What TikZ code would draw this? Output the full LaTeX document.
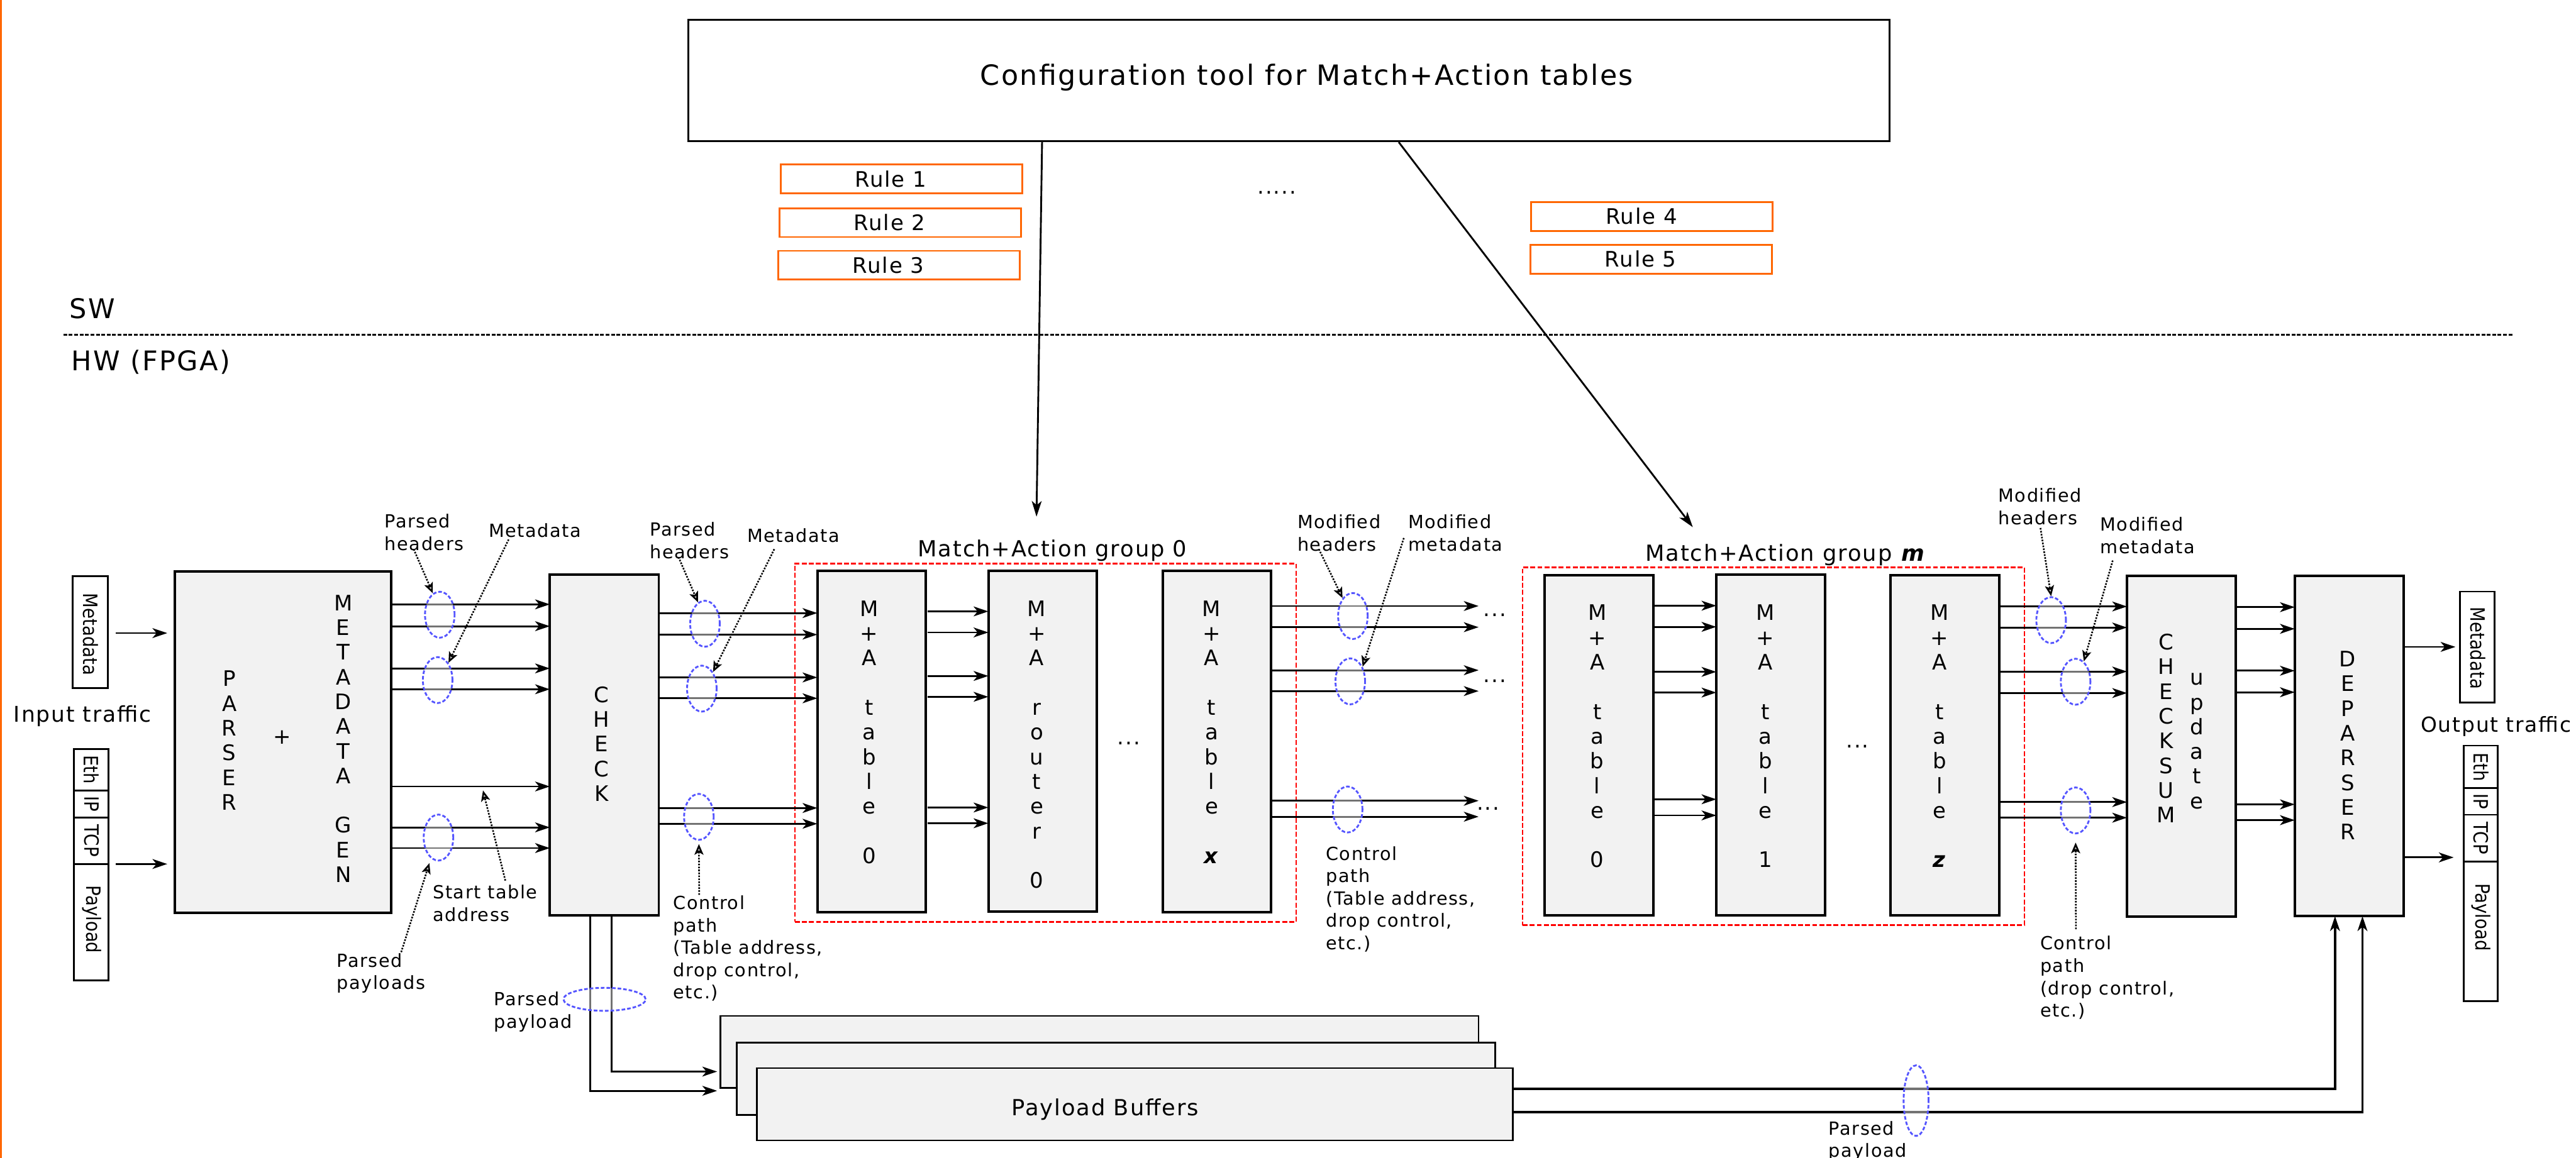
\documentclass[tikz,border=0pt]{standalone}
\usepackage{fontspec}
\setmainfont{DejaVu Sans}[LetterSpace=5.5]
\newfontfamily\plainfont{DejaVu Sans}
\usetikzlibrary{arrows.meta,shapes.geometric,calc}
\definecolor{boxgray}{HTML}{F2F2F2}
\definecolor{ellblue}{HTML}{5555FF}
\definecolor{grpred}{HTML}{FF0000}
\definecolor{ruleorange}{HTML}{FF6600}
\newcommand\lstrut{\rule{0pt}{9pt}}
\newcommand\sstrut{\rule{0pt}{10pt}}
\begin{document}
\begin{tikzpicture}[x=1pt,y=-1pt,
  blk/.style={draw=black, fill=boxgray, line width=1.5pt, inner sep=0pt, outer sep=0pt},
  sbox/.style={draw=black, line width=1.1pt, inner sep=0pt, outer sep=0pt},
  rulebox/.style={draw=ruleorange, line width=1.1pt, minimum width=147pt, minimum height=17.5pt, inner sep=0pt},
  grp/.style={draw=grpred, line width=1pt, dash pattern=on 3pt off 1.3pt, inner sep=0pt},
  stack/.style={font=\fontsize{13}{15.05}\selectfont, align=center, anchor=north, inner sep=0pt},
  lbl/.style={font=\fontsize{11}{13.6}\selectfont, align=left, anchor=north west, inner sep=0pt},
  rot/.style={rotate=-90, font=\plainfont\fontsize{12}{14}\selectfont, inner sep=0pt},
  sig/.style={line width=1.1pt, -{Stealth[length=9pt,width=6pt,inset=2.5pt]}},
  ann/.style={line width=1pt, dash pattern=on 1pt off 0.8pt, -{Stealth[length=6.5pt,width=5.5pt,inset=1.5pt,fill=gray!35]}},
  ell/.style={ellipse, draw=ellblue, line width=1.1pt, dash pattern=on 2.2pt off 1.2pt, fill=white, fill opacity=0.45, minimum width=18pt, minimum height=28pt, inner sep=0pt},
  txt/.style={inner sep=0pt, anchor=base west},
  dots/.style={inner sep=0pt, anchor=base, font=\fontsize{13}{15}\selectfont}
]
\fill[white] (0,0) rectangle (1568,705);
\useasboundingbox (0,0) rectangle (1568,705);
\draw[ruleorange, line width=1.3pt] (0.6,0) -- (0.6,705);

% ---------- SW part ----------
\node[draw=black, line width=1.1pt, minimum width=731pt, minimum height=74pt, inner sep=0pt] (cfg) at (784.5,49) {};
\node[txt, font=\fontsize{17}{20}\selectfont] (cfgt) at (596.5,51.9) {Configuration tool for Match+Action tables};

\node[rulebox] (r1) at (548.6,108.85) {};
\node[rulebox] (r2) at (547.85,135.55) {};
\node[rulebox] (r3) at (547.15,161.5) {};
\node[rulebox] (r4) at (1005.55,131.8) {};
\node[rulebox] (r5) at (1005.05,157.8) {};
\node[inner sep=0pt, font=\fontsize{13}{15}\selectfont] (r1t) at (542.1,108.9) {Rule 1};
\node[inner sep=0pt, font=\fontsize{13}{15}\selectfont] (r2t) at (541.4,135.6) {Rule 2};
\node[inner sep=0pt, font=\fontsize{13}{15}\selectfont] (r3t) at (540.7,161.5) {Rule 3};
\node[inner sep=0pt, font=\fontsize{13}{15}\selectfont] (r4t) at (999.1,131.8) {Rule 4};
\node[inner sep=0pt, font=\fontsize{13}{15}\selectfont] (r5t) at (998.6,157.8) {Rule 5};
\node[dots] (rdots) at (777.2,118) {.....};

\coordinate (c1) at (630.9,314.6);
\coordinate (c2) at (1030.4,321);
\draw[line width=1.1pt, -{Stealth[length=9.5pt,width=6pt,inset=2.5pt]}] (cfg.south -| 634.3,0) -- (c1);
\draw[line width=1.1pt, -{Stealth[length=9.5pt,width=6pt,inset=2.5pt]}] (cfg.south -| 851.4,0) -- (c2);

\node[txt, font=\fontsize{16.5}{20}\selectfont] (sw) at (42.1,193.9) {SW};
\node[txt, font=\fontsize{16.5}{20}\selectfont] (hw) at (43.3,225.5) {HW (FPGA)};
\draw[line width=1pt, dash pattern=on 2.3pt off 1pt] (38.6,203.8) -- (1530,203.8);

% ---------- groups ----------
\node[grp, minimum width=305.2pt, minimum height=218.1pt] (grp0) at (636.4,452.25) {};
\node[grp, minimum width=305.5pt, minimum height=218pt] (grpm) at (1079.55,454.4) {};
\node[txt, font=\fontsize{13.5}{16}\selectfont] (g0title) at (558.5,338.8) {Match+Action group 0};
\node[txt, font=\fontsize{13.5}{16}\selectfont] (gmtitle) at (1001.3,341.8) {Match+Action group \textbf{\textit{m}}};

% ---------- input ----------
\node[sbox, minimum width=21.4pt, minimum height=68pt] (inmeta) at (55,385) {};
\node[rot] (inmetat) at (55.3,386.3) {\scalebox{0.88}[1]{Metadata}};
\node[sbox, minimum width=21pt, minimum height=141pt] (inpkt) at (55.5,526.5) {};
\foreach \yy in {481.5,497.8,526} \draw[line width=1.1pt] (inpkt.west |- 0,\yy) -- (inpkt.east |- 0,\yy);
\node[rot] (ineth) at (55.8,468.7) {\scalebox{0.88}[1]{Eth}};
\node[rot] (inip) at (55.8,489.6) {\scalebox{0.88}[1]{IP}};
\node[rot] (intcp) at (55.8,511.9) {\scalebox{0.88}[1]{TCP}};
\node[rot] (inpay) at (55.8,559.9) {\scalebox{0.88}[1]{Payload}};
\node[txt, font=\fontsize{13.2}{16}\selectfont] (intr) at (8.2,439.7) {Input traffic};

% ---------- blocks ----------
\node[blk, minimum width=131.6pt, minimum height=207.7pt] (parser) at (172.2,451.85) {};
\node[blk, minimum width=66.3pt, minimum height=207.5pt] (check) at (367.85,453.75) {};
\node[blk, minimum width=66pt, minimum height=207.8pt] (g0t0) at (530.5,451.4) {};
\node[blk, minimum width=66pt, minimum height=207.5pt] (g0r0) at (634.6,451.25) {};
\node[blk, minimum width=66pt, minimum height=207.8pt] (g0tx) at (740.7,451.4) {};
\node[blk, minimum width=66.1pt, minimum height=207.3pt] (gmt0) at (973.35,453.75) {};
\node[blk, minimum width=66.1pt, minimum height=207.2pt] (gmt1) at (1077.75,453.6) {};
\node[blk, minimum width=66.1pt, minimum height=207.3pt] (gmtz) at (1183.85,453.75) {};
\node[blk, minimum width=66.2pt, minimum height=207.6pt] (csum) at (1327.8,454.4) {};
\node[blk, minimum width=66.4pt, minimum height=207.3pt] (dep) at (1430,454.25) {};

\node[stack] (tparser) at (139.6,407.75) {\sstrut P\\A\\R\\S\\E\\R};
\node[inner sep=0pt, font=\fontsize{13}{15}\selectfont] (tplus) at (171.6,449) {+};
\node[stack] (tmeta) at (208.9,361.55) {\sstrut M\\E\\T\\A\\D\\A\\T\\A\\\mbox{}\\G\\E\\N};
\node[stack] (tcheck) at (366.2,417.45) {\sstrut C\\H\\E\\C\\K};
\node[stack] (tg0t0) at (529,365.05) {\sstrut M\\+\\A\\\mbox{}\\t\\a\\b\\l\\e\\\mbox{}\\0};
\node[stack] (tg0r0) at (631.1,365.05) {\sstrut M\\+\\A\\\mbox{}\\r\\o\\u\\t\\e\\r\\\mbox{}\\0};
\node[stack] (tg0tx) at (737.5,365.05) {\sstrut M\\+\\A\\\mbox{}\\t\\a\\b\\l\\e\\\mbox{}\\\textbf{\textit{x}}};
\node[stack] (tgmt0) at (972.2,367.55) {\sstrut M\\+\\A\\\mbox{}\\t\\a\\b\\l\\e\\\mbox{}\\0};
\node[stack] (tgmt1) at (1074.5,367.55) {\sstrut M\\+\\A\\\mbox{}\\t\\a\\b\\l\\e\\\mbox{}\\1};
\node[stack] (tgmtz) at (1180.6,367.55) {\sstrut M\\+\\A\\\mbox{}\\t\\a\\b\\l\\e\\\mbox{}\\\textbf{\textit{z}}};
\node[stack] (tcsum) at (1318.5,385.45) {\sstrut C\\H\\E\\C\\K\\S\\U\\M};
\node[stack] (tupd) at (1337.3,406.95) {\sstrut u\\p\\d\\a\\t\\e};
\node[stack] (tdep) at (1429,395.75) {\sstrut D\\E\\P\\A\\R\\S\\E\\R};

\node[dots] (g0dots) at (687.1,453.3) {...};
\node[dots] (gmdots) at (1130.7,455.5) {...};
\node[dots] (od1) at (909.9,375.2) {...};
\node[dots] (od2) at (909.9,415.6) {...};
\node[dots] (od3) at (905.8,493.2) {...};

% ---------- payload buffers ----------
\node[blk, line width=1.1pt, minimum width=461.5pt, minimum height=44pt] (pb1) at (669.25,640.6) {};
\node[blk, line width=1.1pt, minimum width=461.4pt, minimum height=44.2pt] (pb2) at (679.3,656.9) {};
\node[blk, line width=1.1pt, minimum width=460.3pt, minimum height=44pt] (pb3) at (690.85,672.4) {};
\node[inner sep=0pt, anchor=base, font=\fontsize{13.5}{16}\selectfont] (pbt) at (672.7,679.2) {Payload Buffers};

% ---------- output ----------
\node[sbox, minimum width=21pt, minimum height=67.6pt] (outmeta) at (1508,394) {};
\node[rot] (outmetat) at (1508.5,394.6) {\scalebox{0.88}[1]{Metadata}};
\node[sbox, minimum width=20.7pt, minimum height=155.7pt] (outpkt) at (1509.85,531.85) {};
\foreach \yy in {479.8,496.1,524.5} \draw[line width=1.1pt] (outpkt.west |- 0,\yy) -- (outpkt.east |- 0,\yy);
\node[rot] (outeth) at (1510.3,467) {\scalebox{0.88}[1]{Eth}};
\node[rot] (outip) at (1510.3,488) {\scalebox{0.88}[1]{IP}};
\node[rot] (outtcp) at (1510.3,510.3) {\scalebox{0.88}[1]{TCP}};
\node[rot] (outpay) at (1510.3,558.5) {\scalebox{0.88}[1]{Payload}};
\node[txt, font=\fontsize{12.6}{16}\selectfont] (outtr) at (1473.3,445.7) {Output traffic};

% ---------- signal connectors ----------
\draw[sig, shorten <=4.9pt, shorten >=4.6pt] (inmeta.east |- 0,385.5) -- (parser.west |- 0,385.5);
\draw[sig, shorten <=4.6pt, shorten >=4.6pt] (inpkt.east |- 0,526.1) -- (parser.west |- 0,526.1);
\foreach \yy in {368,381.3,407,419.7,478.9,503.8,516.4}
  \draw[sig] (parser.east |- 0,\yy) -- (check.west |- 0,\yy);
\foreach \yy in {373.3,386.4,412.5,425.2,492,501.6}
  \draw[sig] (check.east |- 0,\yy) -- (g0t0.west |- 0,\yy);
\foreach \yy in {372.3,385.1,411.6,424.3,491.7,501.3}
  \draw[sig, shorten <=1pt] (g0t0.east |- 0,\yy) -- (g0r0.west |- 0,\yy);
\coordinate (gout) at (900,0);
\foreach \yy in {369,381.9,408.1,420.8,487.6,497.3}
  \draw[sig] (g0tx.east |- 0,\yy) -- (gout |- 0,\yy);
\foreach \yy in {368.8,381.7,409.1,421.7,486.7,496.5}
  \draw[sig] (gmt0.east |- 0,\yy) -- (gmt1.west |- 0,\yy);
\foreach \yy in {369.3,382.1,408.9,422,488.4,497.9}
  \draw[sig] (gmtz.east |- 0,\yy) -- (csum.west |- 0,\yy);
\foreach \yy in {369.7,382.9,408.4,421.5,489.8,499.4}
  \draw[sig] (csum.east |- 0,\yy) -- (dep.west |- 0,\yy);
\draw[sig, shorten >=2.9pt] (dep.east |- 0,393.9) -- (outmeta.west |- 0,393.9);
\draw[sig, shorten >=6pt] (dep.east |- 0,522.1) -- (outpkt.west |- 0,522.1);

\draw[sig, line width=1.1pt, shorten >=2pt] (check.south -| 372.4,0) |- (pb1.west |- 0,652.5);
\draw[sig, line width=1.1pt, shorten >=2pt] (check.south -| 359.1,0) |- (pb1.west |- 0,664.2);
\draw[sig, line width=1.3pt] (pb3.east |- 0,663) -| (dep.south -| 1421.3,0);
\draw[sig, line width=1.3pt] (pb3.east |- 0,677.2) -| (dep.south -| 1438,0);

% ---------- ellipses ----------
\node[ell] (e1) at (267.7,374.3) {};
\node[ell] (e2) at (266.4,414.1) {};
\node[ell] (e3) at (266.9,510.0) {};
\node[ell] (e4) at (429.1,379.8) {};
\node[ell] (e5) at (427.2,419.3) {};
\node[ell] (e6) at (425.4,497.4) {};
\node[ell] (e7) at (823.5,375.1) {};
\node[ell] (e8) at (821.9,414.9) {};
\node[ell] (e9) at (820.3,492.9) {};
\node[ell] (e10) at (1248.5,377.6) {};
\node[ell] (e11) at (1263.4,415.1) {};
\node[ell] (e12) at (1263.4,493.5) {};
\node[ell, minimum width=50pt, minimum height=14pt] (e13) at (368,608.5) {};
\node[ell, minimum width=15.2pt, minimum height=43pt] (e14) at (1166.3,670.2) {};

% ---------- labels ----------
\node[lbl] (l1) at (234,312.3) {\lstrut Parsed\\headers};
\node[lbl] (l2) at (297.3,318) {\lstrut Metadata};
\node[lbl] (l3) at (204.9,579.6) {\lstrut Parsed\\payloads};
\node[lbl] (l4) at (263.3,538.2) {\lstrut Start table\\address};
\node[lbl] (l5) at (395.5,317.2) {\lstrut Parsed\\headers};
\node[lbl] (l6) at (454.6,321.1) {\lstrut Metadata};
\node[lbl] (l7) at (409.7,544.6) {\lstrut Control\\path\\(Table address,\\drop control,\\etc.)};
\node[lbl] (l8) at (789.6,312.7) {\lstrut Modified\\headers};
\node[lbl] (l9) at (857,312.7) {\lstrut Modified\\metadata};
\node[lbl] (l10) at (806.9,514.6) {\lstrut Control\\path\\(Table address,\\drop control,\\etc.)};
\node[lbl] (l11) at (1216.2,296.5) {\lstrut Modified\\headers};
\node[lbl] (l12) at (1278.2,314.1) {\lstrut Modified\\metadata};
\node[lbl] (l13) at (1241.7,569.2) {\lstrut Control\\path\\(drop control,\\etc.)};
\node[lbl] (l14) at (300.6,603.2) {\lstrut Parsed\\payload};
\node[lbl] (l15) at (1113,681.9) {\lstrut Parsed\\payload};

% ---------- annotation arrows ----------
\coordinate (a1) at (251.8,334.4);
\coordinate (a2) at (309.6,328.5);
\coordinate (a3) at (307.6,536.2);
\coordinate (a3e) at (294,481.3);
\coordinate (a4) at (244.2,579.8);
\coordinate (a5) at (413,339.2);
\coordinate (a6) at (471.3,334.4);
\coordinate (a7) at (425.6,544.9);
\coordinate (a8) at (802.8,334.4);
\coordinate (a9) at (854.5,327.6);
\coordinate (a10) at (1242,321.5);
\coordinate (a11) at (1286,341.3);
\coordinate (a12) at (1263.6,565.8);
\draw[ann] (a1) -- (e1.108);
\draw[ann] (a2) -- (e2.58);
\draw[ann] (a3) -- (a3e);
\draw[ann, shorten >=3pt] (a4) -- (e3.-110);
\draw[ann] (a5) -- (e4.108);
\draw[ann] (a6) -- (e5.56);
\draw[ann, shorten >=2pt] (a7) -- (e6.south);
\draw[ann] (a8) -- (e7.120);
\draw[ann] (a9) -- (e8.50);
\draw[ann] (a10) -- (e10.north);
\draw[ann] (a11) -- (e11.68);
\draw[ann, shorten >=5pt] (a12) -- (e12.south);
\end{tikzpicture}
\end{document}
